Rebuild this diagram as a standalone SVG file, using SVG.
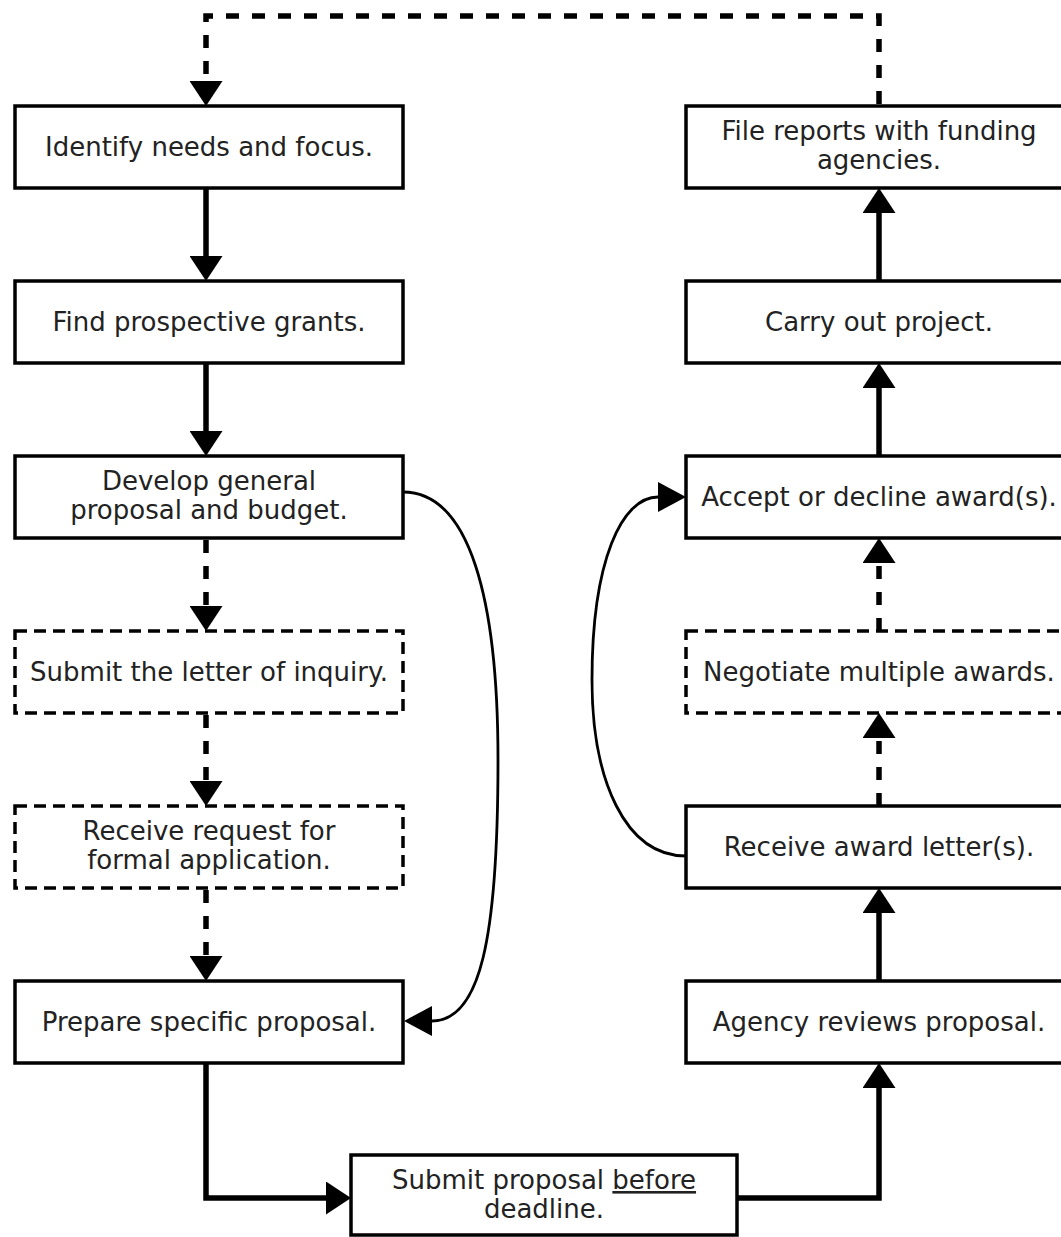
<svg xmlns="http://www.w3.org/2000/svg" width="1061" height="1237" viewBox="0 0 1061 1237">
<style>
.box{fill:#fff;stroke:#000;stroke-width:3.5}
.dbox{fill:#fff;stroke:#000;stroke-width:3.5;stroke-dasharray:12 7}
.lbl{font-family:"DejaVu Sans","Noto Sans",sans-serif;font-size:26px;fill:#222;text-anchor:middle}
.c{fill:none;stroke:#000;stroke-width:5.5;marker-end:url(#ah)}
.cd{fill:none;stroke:#000;stroke-width:5.5;stroke-dasharray:13 13;marker-end:url(#ah)}
.cv{fill:none;stroke:#000;stroke-width:2.8;marker-end:url(#ah2)}
</style>
<defs>
<marker id="ah" viewBox="0 0 25 33" refX="0" refY="16.5" markerWidth="25" markerHeight="33" markerUnits="userSpaceOnUse" orient="auto">
<path d="M0,0 L25,16.5 L0,33 Z" fill="#000"/>
</marker>
<marker id="ah2" viewBox="0 0 28 30" refX="0" refY="15" markerWidth="28" markerHeight="30" markerUnits="userSpaceOnUse" orient="auto">
<path d="M0,0 L28,15 L0,30 Z" fill="#000"/>
</marker>
</defs>
<rect width="1061" height="1237" fill="#fff"/>
<g id="connectors">
<path class="c" d="M206,188 V256"/>
<path class="c" d="M206,363 V431"/>
<path class="cd" d="M206,540 V606"/>
<path class="cd" d="M206,715 V781"/>
<path class="cd" d="M206,890 V956"/>
<path class="c" d="M206,1063 V1198 H326"/>
<path class="c" d="M737,1198 H879 V1088"/>
<path class="c" d="M879,981 V913"/>
<path class="cd" d="M879,806 V738"/>
<path class="cd" d="M879,631 V563"/>
<path class="c" d="M879,456 V388"/>
<path class="c" d="M879,281 V213"/>
<path class="cd" d="M879,104 V16 H206 V81"/>
<path class="cv" d="M403,492 C470,492 498,600 498,760 C498,940 480,1021 432,1021"/>
<path class="cv" d="M686,856 C625,856 592,780 592,680 C592,560 622,497 658,497"/>
</g>
<g id="n1"><rect class="box" x="15" y="106" width="388" height="82"/><text class="lbl" x="209" y="156">Identify needs and focus.</text></g>
<g id="n2"><rect class="box" x="15" y="281" width="388" height="82"/><text class="lbl" x="209" y="331">Find prospective grants.</text></g>
<g id="n3"><rect class="box" x="15" y="456" width="388" height="82"/><text class="lbl" x="209" y="490">Develop general</text><text class="lbl" x="209" y="519">proposal and budget.</text></g>
<g id="n4"><rect class="dbox" x="15" y="631" width="388" height="82"/><text class="lbl" x="209" y="681">Submit the letter of inquiry.</text></g>
<g id="n5"><rect class="dbox" x="15" y="806" width="388" height="82"/><text class="lbl" x="209" y="840">Receive request for</text><text class="lbl" x="209" y="869">formal application.</text></g>
<g id="n6"><rect class="box" x="15" y="981" width="388" height="82"/><text class="lbl" x="209" y="1031">Prepare specific proposal.</text></g>
<g id="n7"><rect class="box" x="351" y="1155" width="386" height="80"/><text class="lbl" x="544" y="1189">Submit proposal <tspan text-decoration="underline">before</tspan></text><text class="lbl" x="544" y="1218">deadline.</text></g>
<g id="n8"><rect class="box" x="686" y="981" width="388" height="82"/><text class="lbl" x="879" y="1031">Agency reviews proposal.</text></g>
<g id="n9"><rect class="box" x="686" y="806" width="388" height="82"/><text class="lbl" x="879" y="856">Receive award letter(s).</text></g>
<g id="n10"><rect class="dbox" x="686" y="631" width="388" height="82"/><text class="lbl" x="879" y="681">Negotiate multiple awards.</text></g>
<g id="n11"><rect class="box" x="686" y="456" width="388" height="82"/><text class="lbl" x="879" y="506">Accept or decline award(s).</text></g>
<g id="n12"><rect class="box" x="686" y="281" width="388" height="82"/><text class="lbl" x="879" y="331">Carry out project.</text></g>
<g id="n13"><rect class="box" x="686" y="106" width="388" height="82"/><text class="lbl" x="879" y="140">File reports with funding</text><text class="lbl" x="879" y="169">agencies.</text></g>
</svg>
